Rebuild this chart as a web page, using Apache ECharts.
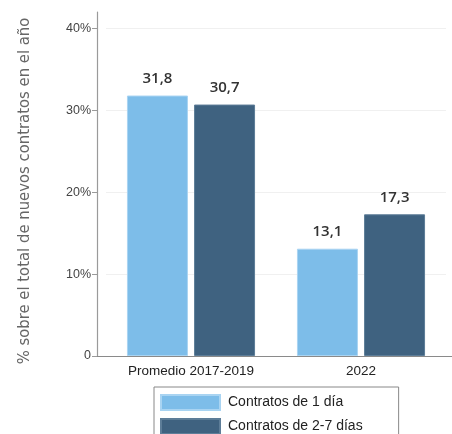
<!DOCTYPE html>
<html><head><meta charset="utf-8">
<script src="https://cdn.jsdelivr.net/npm/echarts@6/dist/echarts.min.js"></script>
<style>html,body{margin:0;padding:0;background:#fff}#c{width:452px;height:434px}</style>
</head><body><div id="c"></div>
<script>
const categories = ['Promedio 2017-2019', '2022'];
const oneDay = [31.8, 13.1];
const twoToSeven = [30.7, 17.3];
const yTicks = [0, 10, 20, 30, 40];
const seriesNames = ['Contratos de 1 día', 'Contratos de 2-7 días'];
const yTitle = '% sobre el total de nuevos contratos en el año';

const chart = echarts.init(document.getElementById('c'), null, {renderer: 'canvas'});
const fmt = v => v.toFixed(1).replace('.', ',');
const lab = {show: true, position: 'top', distance: 9, color: '#333', fontSize: 15, fontFamily: 'Open Sans', fontWeight: 600, formatter: p => fmt(p.value)};
chart.setOption({
  animation: false,
  grid: [
    {left: 106, right: 6, top: 12, bottom: 78},
    {left: 97, right: 0, top: 12, bottom: 78}
  ],
  legend: {
    orient: 'vertical', left: 154, top: 387, height: 80,
    icon: 'rect',
    itemWidth: 59, itemHeight: 15, itemGap: 7,
    padding: [7, 36, 8, 6],
    borderColor: '#888', borderWidth: 1,
    textStyle: {fontFamily: 'Liberation Sans', fontSize: 14, color: '#222', padding: [0, 0, 0, 3]},
    data: seriesNames
  },
  xAxis: [
    {type: 'category', gridIndex: 0, data: categories,
     axisLine: {show: false}, axisTick: {show: false},
     axisLabel: {color: '#222', fontFamily: 'Liberation Sans', fontSize: 13.5, margin: 8}},
    {type: 'value', gridIndex: 1, min: 0, max: 1,
     axisLine: {show: true, lineStyle: {color: '#8a8a8a', width: 1}},
     axisTick: {show: false}, axisLabel: {show: false}, splitLine: {show: false}}
  ],
  yAxis: [
    {type: 'value', gridIndex: 0, min: 0, max: 42, offset: 9,
     axisLine: {show: true, lineStyle: {color: '#9a9a9a', width: 1.2}},
     axisTick: {show: true, length: 5, customValues: yTicks, lineStyle: {color: '#9a9a9a'}},
     axisLabel: {customValues: yTicks, color: '#444', fontFamily: 'Liberation Sans', fontSize: 12.5, margin: 6,
       formatter: v => v === 0 ? '0' : v + '%'},
     splitLine: {show: true, lineStyle: {color: '#f0f0f0', width: 1}},
     name: yTitle, nameLocation: 'middle', nameGap: 64, nameRotate: 90,
     nameTextStyle: {fontFamily: '"DejaVu Sans Condensed", "Liberation Sans"', fontSize: 16.5, color: '#666', padding: [0, 14, 0, 0]}},
    {type: 'value', gridIndex: 1, min: 0, max: 1, show: false}
  ],
  series: [
    {name: seriesNames[0], type: 'bar', xAxisIndex: 0, yAxisIndex: 0, data: oneDay,
     barWidth: 61, barGap: '10%', itemStyle: {color: '#7dbde9', borderColor: '#a9d4f2', borderWidth: 1}, label: lab},
    {name: seriesNames[1], type: 'bar', xAxisIndex: 0, yAxisIndex: 0, data: twoToSeven,
     barWidth: 61, barGap: '10%', itemStyle: {color: '#3f6280', borderColor: '#5d7d98', borderWidth: 1}, label: lab}
  ]
});
</script></body></html>
